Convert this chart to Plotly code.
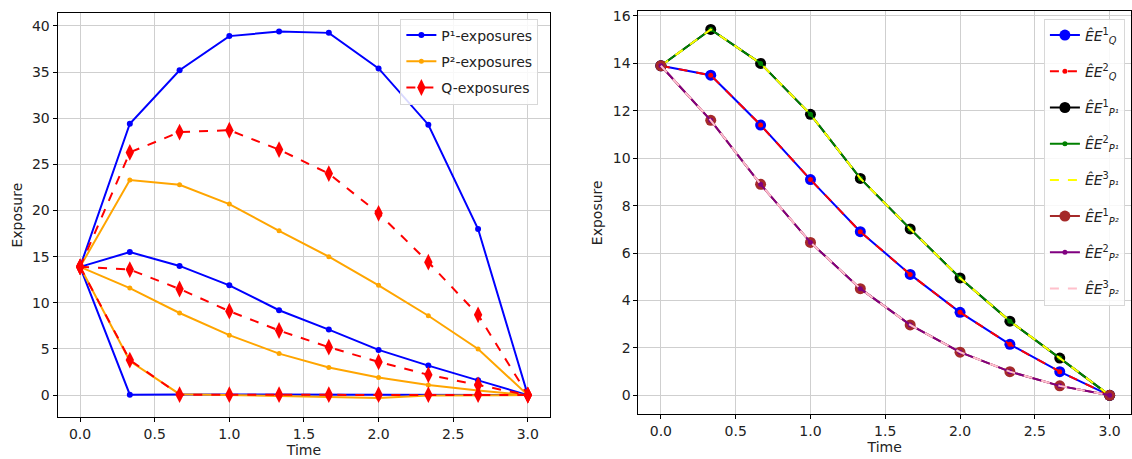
import plotly.graph_objects as go

t = [0, 1/3, 2/3, 1, 4/3, 5/3, 2, 7/3, 8/3, 3]

# Left panel
p1_high = [13.9, 29.4, 35.2, 38.9, 39.4, 39.25, 35.4, 29.3, 18.0, 0.0]
p1_mid = [13.9, 15.5, 14.0, 11.9, 9.2, 7.1, 4.9, 3.2, 1.6, 0.0]
p1_low = [13.9, 0.05, 0.08, 0.08, 0.08, 0.08, 0.08, 0.08, 0.08, 0.0]
p2_high = [13.9, 23.3, 22.8, 20.7, 17.8, 15.0, 11.9, 8.6, 5.0, 0.0]
p2_mid = [13.9, 11.6, 8.9, 6.5, 4.5, 3.0, 1.9, 1.1, 0.5, 0.0]
p2_low = [13.9, 3.7, 0.1, 0.0, -0.1, -0.2, -0.3, -0.05, 0.0, 0.0]
q_high = [13.9, 26.3, 28.5, 28.7, 26.6, 24.0, 19.7, 14.4, 8.7, 0.0]
q_mid = [13.9, 13.6, 11.5, 9.1, 7.0, 5.2, 3.6, 2.2, 1.1, 0.0]
q_low = [13.9, 3.8, 0.05, 0.05, 0.05, 0.05, 0.05, 0.05, 0.05, 0.0]

# Right panel
ee_q = [13.9, 13.5, 11.4, 9.1, 6.9, 5.1, 3.5, 2.15, 1.0, 0.0]
ee_p1 = [13.9, 15.43, 14.0, 11.85, 9.15, 7.02, 4.95, 3.13, 1.57, 0.0]
ee_p2 = [13.9, 11.6, 8.9, 6.45, 4.5, 2.97, 1.82, 1.0, 0.4, 0.0]

left_labels = ["P¹-exposures", "P²-exposures", "Q-exposures"]
right_labels = [
    "<i>ÊE</i><sup>1</sup><sub><i>Q</i></sub>",
    "<i>ÊE</i><sup>2</sup><sub><i>Q</i></sub>",
    "<i>ÊE</i><sup>1</sup><sub><i>P¹</i></sub>",
    "<i>ÊE</i><sup>2</sup><sub><i>P¹</i></sub>",
    "<i>ÊE</i><sup>3</sup><sub><i>P¹</i></sub>",
    "<i>ÊE</i><sup>1</sup><sub><i>P²</i></sub>",
    "<i>ÊE</i><sup>2</sup><sub><i>P²</i></sub>",
    "<i>ÊE</i><sup>3</sup><sub><i>P²</i></sub>",
]

fig = go.Figure()

# left traces
for i, ys in enumerate([p1_high, p1_mid, p1_low]):
    fig.add_trace(go.Scatter(x=t, y=ys, mode="lines+markers", name=left_labels[0],
                             line=dict(color="blue", width=2), marker=dict(size=6, color="blue"),
                             showlegend=(i == 0), legend="legend", legendgroup="L0",
                             xaxis="x", yaxis="y"))
for i, ys in enumerate([p2_high, p2_mid, p2_low]):
    fig.add_trace(go.Scatter(x=t, y=ys, mode="lines+markers", name=left_labels[1],
                             line=dict(color="orange", width=2), marker=dict(size=5, color="orange"),
                             showlegend=(i == 0), legend="legend", legendgroup="L1",
                             xaxis="x", yaxis="y"))
for i, ys in enumerate([q_high, q_mid, q_low]):
    fig.add_trace(go.Scatter(x=t, y=ys, mode="lines+markers", name=left_labels[2],
                             line=dict(color="red", width=2, dash="dash"),
                             marker=dict(size=12, color="red", symbol="diamond-tall"),
                             showlegend=(i == 0), legend="legend", legendgroup="L2",
                             xaxis="x", yaxis="y"))

# right traces
right_specs = [
    (ee_q, "blue", "solid", 11, "circle"),
    (ee_q, "red", "dash", 5, "circle"),
    (ee_p1, "black", "solid", 11, "circle"),
    (ee_p1, "green", "solid", 5, "circle"),
    (ee_p1, "yellow", "dash", 0, "circle"),
    (ee_p2, "brown", "solid", 11, "circle"),
    (ee_p2, "purple", "solid", 5, "circle"),
    (ee_p2, "pink", "dash", 0, "circle"),
]
for k, (ys, col, dash, msize, sym) in enumerate(right_specs):
    mode = "lines+markers" if msize > 0 else "lines"
    fig.add_trace(go.Scatter(x=t, y=ys, mode=mode, name=right_labels[k],
                             line=dict(color=col, width=2, dash=dash),
                             marker=dict(size=max(msize, 1), color=col, symbol=sym),
                             legend="legend2", legendgroup="g%d" % k,
                             xaxis="x2", yaxis="y2"))

font = dict(family="DejaVu Sans", size=14, color="#222222")
axis_common = dict(showgrid=True, gridcolor="#cfcfcf", gridwidth=1, zeroline=False,
                   showline=True, linecolor="black", linewidth=1.2, mirror=True,
                   ticks="outside", ticklen=4, tickcolor="black", tickfont=font)

fig.update_layout(
    width=1132, height=459,
    margin=dict(l=0, r=0, t=0, b=0),
    paper_bgcolor="white", plot_bgcolor="white",
    font=font,
    xaxis=dict(domain=[0.051, 0.4865], range=[-0.15, 3.15], tickvals=[0, 0.5, 1, 1.5, 2, 2.5, 3],
               ticktext=["0.0", "0.5", "1.0", "1.5", "2.0", "2.5", "3.0"],
               title=dict(text="Time", font=font, standoff=2), anchor="y", **axis_common),
    yaxis=dict(domain=[0.0915, 0.978], range=[-2.4, 41.4], tickvals=[0, 5, 10, 15, 20, 25, 30, 35, 40],
               title=dict(text="Exposure", font=font, standoff=6), anchor="x", **axis_common),
    xaxis2=dict(domain=[0.5645, 1.0], range=[-0.15, 3.143], tickvals=[0, 0.5, 1, 1.5, 2, 2.5, 3],
                ticktext=["0.0", "0.5", "1.0", "1.5", "2.0", "2.5", "3.0"],
                title=dict(text="Time", font=font, standoff=2), anchor="y2", **axis_common),
    yaxis2=dict(domain=[0.098, 0.982], range=[-0.8, 16.2], tickvals=[0, 2, 4, 6, 8, 10, 12, 14, 16],
                title=dict(text="Exposure", font=font, standoff=6), anchor="x2", **axis_common),
    legend=dict(x=0.354, y=0.966, xanchor="left", yanchor="top", bgcolor="rgba(255,255,255,0.85)",
                bordercolor="#d8d8d8", borderwidth=1, font=font, itemwidth=30,
                tracegroupgap=5),
    legend2=dict(x=0.923, y=0.966, xanchor="left", yanchor="top", bgcolor="rgba(255,255,255,0.85)",
                 bordercolor="#d8d8d8", borderwidth=1, font=font, itemwidth=30,
                 tracegroupgap=15),
)

fig.write_html("out.html")
